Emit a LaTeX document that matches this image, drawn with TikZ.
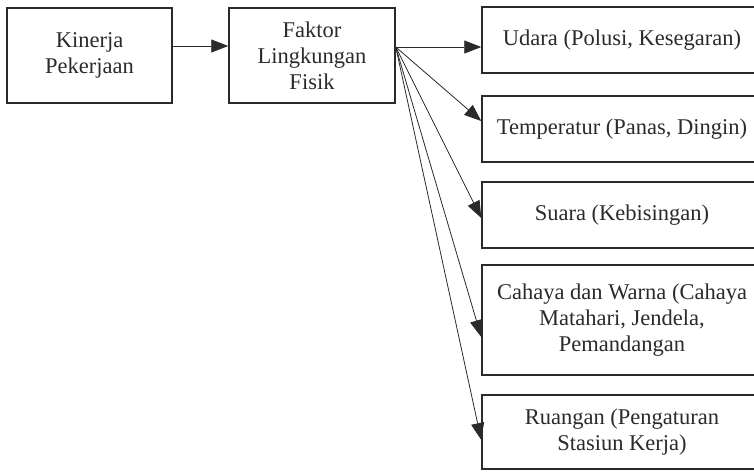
\documentclass[tikz,border=0pt]{standalone}
\usepackage{fontspec}
\setmainfont{Liberation Serif}
\usetikzlibrary{arrows.meta,calc}
\definecolor{ink}{HTML}{2A2A2A}
\tikzset{
  box/.style={draw=ink, line width=1.5pt, rectangle, align=center, inner sep=2pt,
    font=\fontsize{22.5}{26}\selectfont, text=ink},
  link/.style={draw=ink, line width=0.8pt,
    -{Triangle[length=17pt,width=13pt]}}
}
\begin{document}
\begin{tikzpicture}[x=1pt,y=-1pt]
\useasboundingbox (0,0) rectangle (754,472);

% left column
\node[box, minimum width=165pt, minimum height=95pt] (kin) at (89.5,55.5) {Kinerja\\Pekerjaan};
\node[box, minimum width=166pt, minimum height=95pt] (fak) at (312,55.5) {Faktor\\Lingkungan\\Fisik};

% right column (boxes run past the page edge)
\node[box, minimum width=280pt, minimum height=66pt] (uda) at (622,40) {Udara (Polusi, Kesegaran)};
\node[box, minimum width=280pt, minimum height=66pt] (tem) at (622,129) {Temperatur (Panas, Dingin)};
\node[box, minimum width=280pt, minimum height=66pt] (sua) at (622,215) {Suara (Kebisingan)};
\node[box, minimum width=280pt, minimum height=110pt] (cah) at (622,320) {Cahaya dan Warna (Cahaya\\Matahari, Jendela,\\Pemandangan};
\node[box, minimum width=280pt, minimum height=74pt] (rua) at (622,432) {Ruangan (Pengaturan\\Stasiun Kerja)};

% connectors
\coordinate (fan) at ([yshift=8.5pt]fak.east);
\draw[link] ([yshift=9.5pt]kin.east) -- ([yshift=9.5pt]fak.west);
\draw[link] (fan) -- (fan -| uda.west);
\draw[link] (fan) -- ([yshift=8pt]tem.west);
\draw[link] (fan) -- ([yshift=-3pt]sua.west);
\draw[link] (fan) -- ([yshift=-17pt]cah.west);
\draw[link] (fan) -- ([yshift=-8pt]rua.west);
\end{tikzpicture}
\end{document}
